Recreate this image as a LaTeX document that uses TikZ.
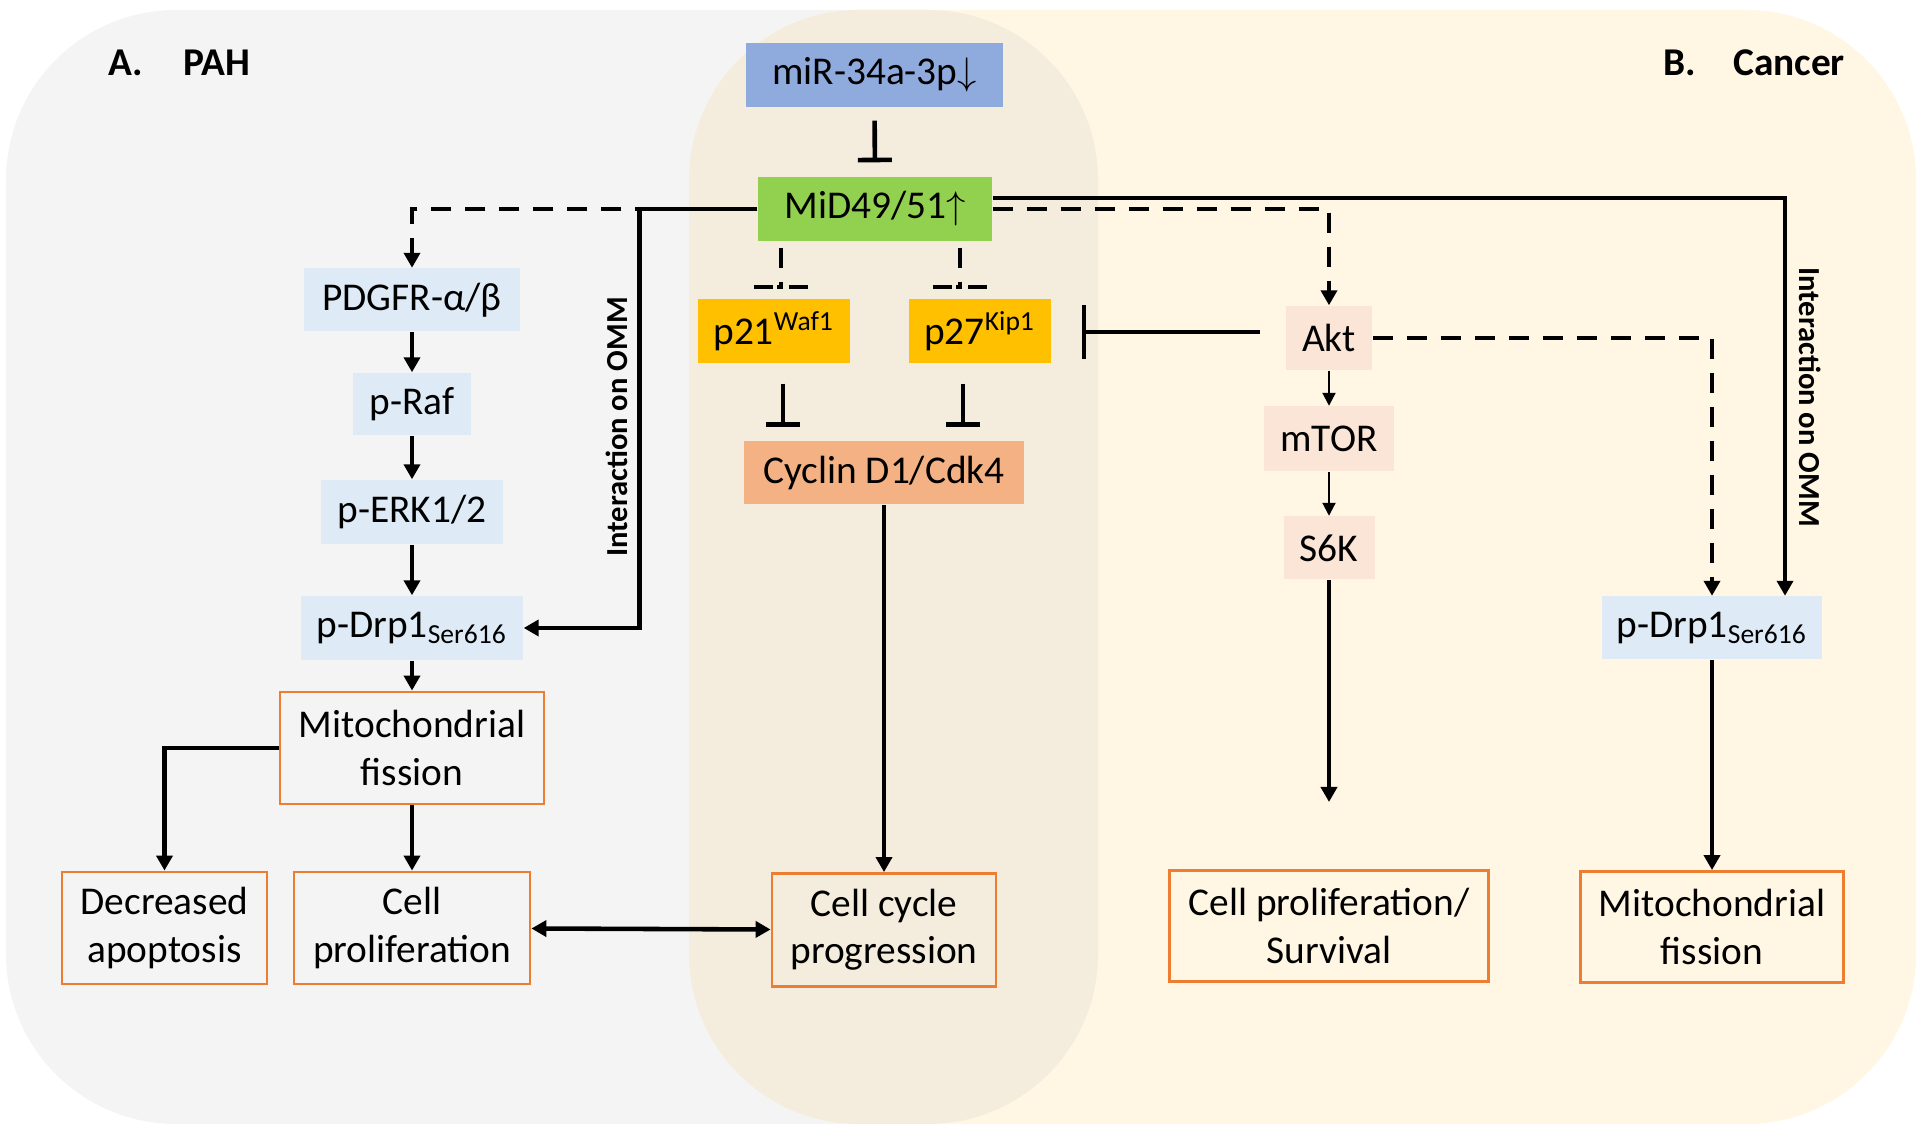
\documentclass[tikz,border=0pt]{standalone}
\usepackage{fontspec}
\setmainfont{Carlito}
\usetikzlibrary{arrows.meta}
\usetikzlibrary{positioning}

\definecolor{bgpah}{RGB}{244,244,244}
\definecolor{bgcan}{RGB}{255,246,227}
\definecolor{bgmix}{RGB}{244,237,221}
\definecolor{mirblue}{RGB}{143,170,220}
\definecolor{midgreen}{RGB}{146,208,80}
\definecolor{cdkgold}{RGB}{255,192,0}
\definecolor{cycsalmon}{RGB}{244,177,131}
\definecolor{aktpink}{RGB}{251,229,214}
\definecolor{pathblue}{RGB}{222,235,247}
\definecolor{outorange}{RGB}{237,125,49}

\tikzset{
  box/.style={rectangle, inner sep=0pt, align=center, font=\fontsize{11.2}{13.4}\selectfont},
  sigbox/.style={box, fill=pathblue},
  aktbox/.style={box, fill=aktpink},
  outbox/.style={box, draw=outorange, line width=0.8pt},
  arr/.style={line width=1.3pt, -{Triangle[width=0.16cm,length=0.15cm]}},
  dblarr/.style={line width=1.3pt, {Triangle[width=0.16cm,length=0.15cm]}-{Triangle[width=0.16cm,length=0.15cm]}},
  thinarr/.style={line width=0.6pt, -{Triangle[width=0.13cm,length=0.13cm]}},
  dasharr/.style={arr, dash pattern=on 0.2cm off 0.14cm},
  inh/.style={line width=1.3pt, -{Bar[width=0.34cm]}},
  dinh/.style={line width=1.4pt, dash pattern=on 0.2cm off 0.14cm},
  dbar/.style={line width=1.4pt, dash pattern=on 0.19cm off 0.04cm on 0.06cm off 0.06cm},
  omm/.style={font=\fontsize{8.7}{10}\selectfont\bfseries},
  panel/.style={font=\fontsize{11.2}{13}\selectfont\bfseries, anchor=west, inner sep=0pt}
}

\begin{document}
\begin{tikzpicture}
\useasboundingbox (0,0) rectangle (19.2,11.27);
\fill[bgpah, rounded corners=1.7cm] (0.06,0.03) rectangle (10.98,11.17);
\fill[bgcan, rounded corners=1.7cm] (6.89,0.03) rectangle (19.16,11.17);
\begin{scope}
\clip[rounded corners=1.7cm] (0.06,0.03) rectangle (10.98,11.17);
\fill[bgmix, rounded corners=1.7cm] (6.89,0.03) rectangle (19.16,11.17);
\end{scope}

\node[panel] (pah) at (1.08,10.64) {A.\hspace{0.40cm}PAH};
\node[panel] (cancer) at (16.63,10.64) {B.\hspace{0.37cm}Cancer};

\node[box, fill=mirblue, minimum width=2.57cm, minimum height=0.64cm] (mir) at (8.745,10.52) {miR-34a-3p$\downarrow$};
\node[box, fill=midgreen, minimum width=2.34cm, minimum height=0.64cm] (mid) at (8.75,9.18) {MiD49/51$\uparrow$};
\node[box, fill=cdkgold, minimum width=1.52cm, minimum height=0.64cm] (p21) at (7.74,7.96) {p21\textsuperscript{Waf1}};
\node[box, fill=cdkgold, minimum width=1.42cm, minimum height=0.64cm] (p27) at (9.80,7.96) {p27\textsuperscript{Kip1}};
\node[box, fill=cycsalmon, minimum width=2.80cm, minimum height=0.63cm] (cyc) at (8.84,6.54) {Cyclin D1/Cdk4};
\node[outbox, minimum width=2.24cm, minimum height=1.13cm] (ccp) at (8.84,1.97) {Cell cycle\\progression};

\node[sigbox, minimum width=2.16cm, minimum height=0.63cm] (pdgfr) at (4.12,8.27) {PDGFR-α/β};
\node[sigbox, minimum width=1.18cm, minimum height=0.62cm] (praf) at (4.12,7.23) {p-Raf};
\node[sigbox, minimum width=1.82cm, minimum height=0.64cm] (perk) at (4.12,6.15) {p-ERK1/2};
\node[sigbox, minimum width=2.22cm, minimum height=0.64cm] (drpL) at (4.12,4.99) {p-Drp1\textsubscript{Ser616}};
\node[outbox, minimum width=2.64cm, minimum height=1.12cm] (mfL) at (4.12,3.79) {Mitochondrial\\fission};
\node[outbox, minimum width=2.05cm, minimum height=1.12cm] (apo) at (1.645,1.99) {Decreased\\apoptosis};
\node[outbox, minimum width=2.36cm, minimum height=1.12cm] (prol) at (4.12,1.99) {Cell\\proliferation};

\node[aktbox, minimum width=0.86cm, minimum height=0.64cm] (akt) at (13.29,7.89) {Akt};
\node[aktbox, minimum width=1.30cm, minimum height=0.65cm] (mtor) at (13.29,6.88) {mTOR};
\node[aktbox, minimum width=0.91cm, minimum height=0.63cm] (s6k) at (13.29,5.79) {S6K};
\node[outbox, minimum width=3.19cm, minimum height=1.11cm] (cps) at (13.29,2.01) {Cell proliferation/\\Survival};
\node[sigbox, minimum width=2.20cm, minimum height=0.63cm] (drpR) at (17.12,4.99) {p-Drp1\textsubscript{Ser616}};
\node[outbox, minimum width=2.63cm, minimum height=1.11cm] (mfR) at (17.12,2.00) {Mitochondrial\\fission};

\draw[inh, shorten <=0.13cm, shorten >=0.14cm] (mir) -- (mid);
\coordinate (t21) at (7.81,8.40);
\coordinate (t27) at (9.60,8.40);
\draw[dinh, shorten <=0.06cm] (mid.south -| t21) -- (t21);
\draw[dbar] ([xshift=-0.27cm]t21) -- ([xshift=0.27cm]t21);
\draw[dinh, shorten <=0.06cm] (mid.south -| t27) -- (t27);
\draw[dbar] ([xshift=-0.27cm]t27) -- ([xshift=0.27cm]t27);
\draw[inh, shorten <=0.2cm, shorten >=0.14cm] ([xshift=0.09cm]p21.south) -- ([xshift=0.09cm]p21.south |- cyc.north);
\draw[inh, shorten <=0.2cm, shorten >=0.14cm] ([xshift=-0.17cm]p27.south) -- ([xshift=-0.17cm]p27.south |- cyc.north);
\draw[inh, -{Bar[width=0.54cm]}, shorten <=0.25cm, shorten >=0.30cm] ([yshift=0.06cm]akt.west) -- ([yshift=0.06cm]akt.west -| p27.east);
\draw[arr] (cyc) -- (ccp);

\draw[dasharr] (mid.west) -| (pdgfr.north);
\draw[arr] (mid.west) -- ++(-1.18,0) |- (drpL.east);
\node[omm, rotate=90] (ommL) at (6.17,7.00) {Interaction on OMM};
\draw[arr] (pdgfr) -- (praf);
\draw[arr] (praf) -- (perk);
\draw[arr] (perk) -- (drpL);
\draw[arr] (drpL) -- (mfL);
\draw[arr] (mfL.west) -| (apo.north);
\draw[arr] (mfL) -- (prol);
\draw[dblarr] (prol) -- (ccp);

\draw[dasharr] (mid.east) -| (akt.north);
\draw[arr] ([yshift=0.11cm]mid.east) -| ([xshift=0.73cm]drpR.north);
\node[omm, rotate=-90] (ommR) at (18.10,7.30) {Interaction on OMM};
\draw[dasharr] (akt.east) -| (drpR.north);
\draw[thinarr] (akt) -- (mtor);
\draw[thinarr] (mtor) -- (s6k);
\coordinate (s6kend) at (13.29,3.25);
\draw[arr] (s6k) -- (s6kend);
\draw[arr] (drpR) -- (mfR);

\end{tikzpicture}
\end{document}
